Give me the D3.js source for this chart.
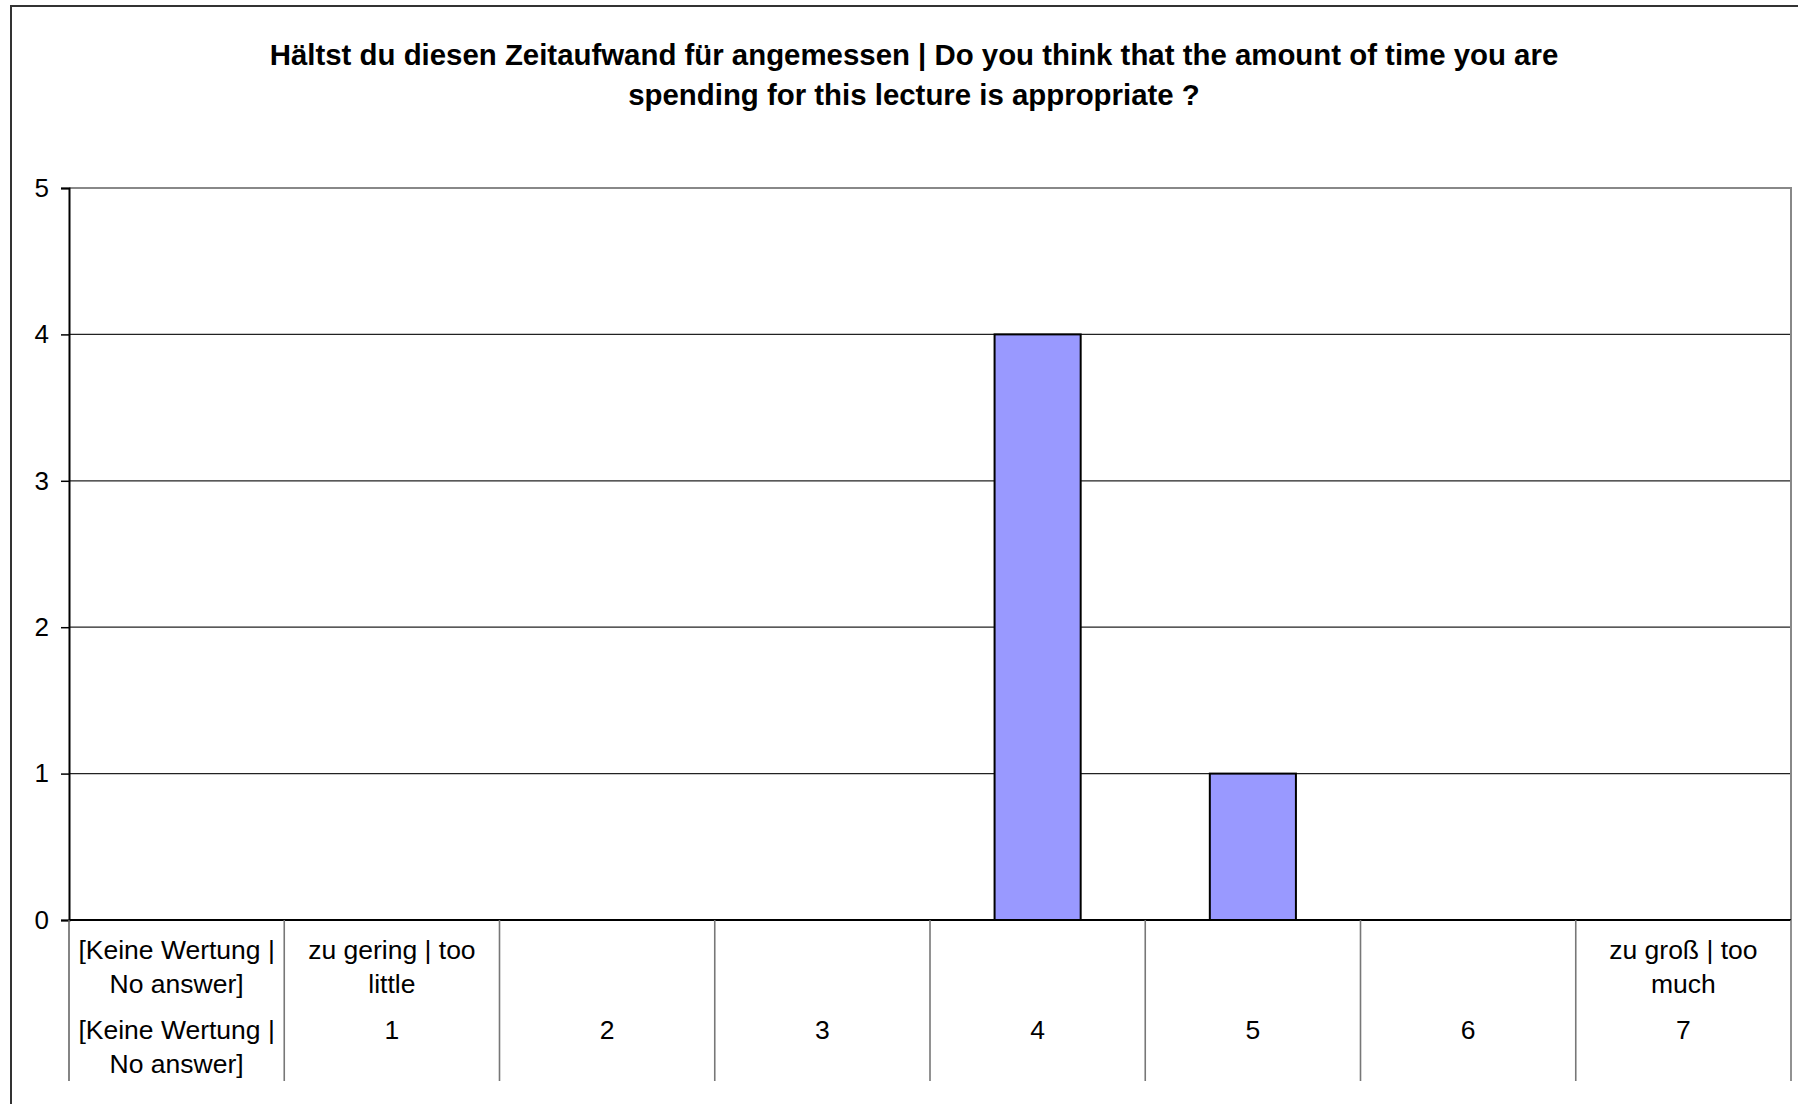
<!DOCTYPE html>
<html>
<head>
<meta charset="utf-8">
<script src="https://cdn.jsdelivr.net/npm/d3@7"></script>
<style>
  html, body { margin: 0; padding: 0; background: #fff; }
  svg { display: block; font-family: "Liberation Sans", Arial, sans-serif; }
</style>
</head>
<body>
<svg id="chart" width="1798" height="1104"></svg>
<script>
// ---- data ----
const titleLines = [
  "Hältst du diesen Zeitaufwand für angemessen | Do you think that the amount of time you are",
  "spending for this lecture is appropriate ?"
];
const categories = ["na", "1", "2", "3", "4", "5", "6", "7"];
const values = [0, 0, 0, 0, 4, 1, 0, 0];
const labelRow1 = [
  ["[Keine Wertung |", "No answer]"],
  ["zu gering | too", "little"],
  [], [], [], [], [],
  ["zu groß | too", "much"]
];
const labelRow2 = [
  ["[Keine Wertung |", "No answer]"],
  ["1"], ["2"], ["3"], ["4"], ["5"], ["6"], ["7"]
];
const yTicks = [0, 1, 2, 3, 4, 5];

// ---- layout ----
const svg = d3.select("#chart");
const plotL = 69, plotR = 1791, plotT = 188, plotB = 920;

// outer frame
svg.append("rect")
  .attr("x", 11).attr("y", 6).attr("width", 1800).attr("height", 1110)
  .attr("fill", "none").attr("stroke", "#333").attr("stroke-width", 2);

// title
svg.append("g").selectAll("text").data(titleLines).join("text")
  .attr("x", 914).attr("y", (d, i) => 65 + i * 40)
  .attr("text-anchor", "middle")
  .attr("font-weight", "bold").attr("font-size", 29.4)
  .attr("fill", "#000")
  .text(d => d);

const x = d3.scaleBand().domain(categories).range([plotL, plotR]).padding(0);
const y = d3.scaleLinear().domain([0, 5]).range([plotB, plotT]);

// gridlines
svg.append("g").selectAll("line").data(yTicks.filter(t => t > 0 && t < 5)).join("line")
  .attr("x1", plotL).attr("x2", plotR)
  .attr("y1", d => y(d)).attr("y2", d => y(d))
  .attr("stroke", "#222").attr("stroke-width", 1.2);

// plot top & right border (grey)
svg.append("path")
  .attr("d", `M${plotL},${y(5)}H${plotR}V${y(0)}`)
  .attr("fill", "none").attr("stroke", "#888").attr("stroke-width", 2);

// bars
const bw = x.bandwidth();
svg.append("g").selectAll("rect").data(values.map((v, i) => ({c: categories[i], v})).filter(d => d.v > 0)).join("rect")
  .attr("x", d => x(d.c) + bw * 0.3)
  .attr("width", bw * 0.4)
  .attr("y", d => y(d.v))
  .attr("height", d => y(0) - y(d.v))
  .attr("fill", "#9999ff").attr("stroke", "#000").attr("stroke-width", 2);

// y axis
const yAxis = svg.append("g").attr("transform", `translate(${plotL},0)`)
  .call(d3.axisLeft(y).tickValues(yTicks).tickSize(8).tickPadding(12).tickFormat(d3.format("d")));
yAxis.select(".domain").attr("stroke", "#000").attr("stroke-width", 2);
yAxis.selectAll(".tick line").attr("stroke", "#000").attr("stroke-width", 1.5);
yAxis.selectAll(".tick text").attr("font-size", 26).attr("fill", "#000")
  .attr("font-family", "'Liberation Sans', Arial, sans-serif");

// x axis baseline
svg.append("line").attr("x1", plotL).attr("x2", plotR).attr("y1", y(0)).attr("y2", y(0))
  .attr("stroke", "#000").attr("stroke-width", 2);

// category dividers
const divX = categories.map(c => x(c)).concat([plotR]);
svg.append("g").selectAll("line").data(divX).join("line")
  .attr("x1", d => d).attr("x2", d => d)
  .attr("y1", y(0)).attr("y2", 1081)
  .attr("stroke", (d, i) => i === 0 ? "#666" : "#777").attr("stroke-width", 1.6);

// category labels
const lh = 34;
function drawRow(rows, y0) {
  const g = svg.append("g");
  rows.forEach((lines, i) => {
    const cx = x(categories[i]) + bw / 2;
    lines.forEach((t, j) => {
      g.append("text").attr("x", cx).attr("y", y0 + j * lh)
        .attr("text-anchor", "middle").attr("font-size", 26.5).attr("fill", "#000")
        .text(t);
    });
  });
}
drawRow(labelRow1, 959);
drawRow(labelRow2, 1039);
</script>
</body>
</html>
